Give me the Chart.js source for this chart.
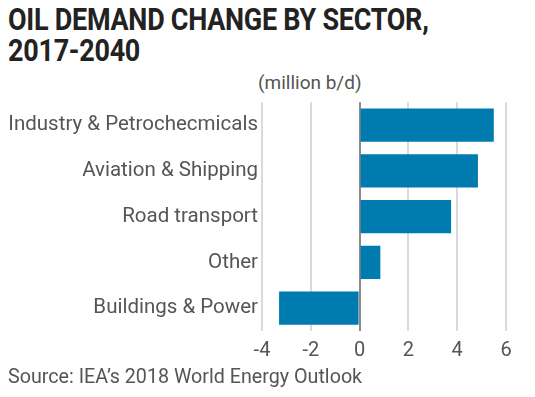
<!DOCTYPE html>
<html>
<head>
<meta charset="utf-8">
<script src="https://cdn.jsdelivr.net/npm/chart.js@4"></script>
<style>
  body { margin: 0; width: 535px; height: 397px; background: #fff; position: relative; overflow: hidden; }
  #title { position: absolute; left: 8px; top: 4px; font-family: Roboto, sans-serif; font-weight: bold; font-size: 31px; line-height: 31px; color: #222; white-space: nowrap; transform: scaleX(0.87); transform-origin: left top; letter-spacing: -0.3px; }
  #unit { position: absolute; left: 258px; top: 71px; font-family: Roboto, sans-serif; font-size: 19px; color: #555; }
  #source { position: absolute; left: 8px; top: 365px; font-family: Roboto, sans-serif; font-size: 19.7px; color: #555; }
  #wrap { position: absolute; left: 0; top: 86px; width: 535px; height: 285px; }
</style>
</head>
<body>
<div id="title">OIL DEMAND CHANGE BY SECTOR,<br>2017-2040</div>
<div id="unit">(million b/d)</div>
<div id="wrap"><canvas id="chart"></canvas></div>
<div id="source">Source: IEA’s 2018 World Energy Outlook</div>
<script>
// sectors and change in demand, million b/d
const sectors = [
  "Industry & Petrochecmicals",
  "Aviation & Shipping",
  "Road transport",
  "Other",
  "Buildings & Power",
];
const demandChange = [5.5, 4.85, 3.75, 0.85, -3.3];
const xTicks = [-4, -2, 0, 2, 4, 6];

const ctx = document.getElementById("chart");
new Chart(ctx, {
  type: "bar",
  data: {
    labels: sectors,
    datasets: [
      {
        data: demandChange,
        backgroundColor: "#007baf",
        borderWidth: 0,
        categoryPercentage: 1,
        barPercentage: 0.73,
      },
    ],
  },
  options: {
    indexAxis: "y",
    responsive: true,
    maintainAspectRatio: false,
    animation: false,
    layout: { padding: { left: 4, right: 29, top: 7, bottom: 0 } },
    plugins: {
      legend: { display: false },
      tooltip: { enabled: false },
    },
    scales: {
      x: {
        min: -4,
        max: 6,
        afterBuildTicks: (scale) => {
          scale.ticks = xTicks.map((v) => ({ value: v }));
        },
        border: { display: false },
        grid: {
          drawTicks: false,
          lineWidth: 2,
          color: (c) => (c.tick && c.tick.value === 0 ? "#8a8a8a" : "#dadada"),
        },
        ticks: {
          color: "#555",
          padding: 8,
          font: { family: "Roboto", size: 20 },
        },
      },
      y: {
        afterFit: (scale) => {
          scale.width = 258;
        },
        border: { display: false },
        grid: { display: false, drawTicks: false },
        ticks: {
          color: "#555",
          padding: 4,
          font: { family: "Roboto", size: 20.5 },
        },
      },
    },
  },
});
</script>
</body>
</html>
